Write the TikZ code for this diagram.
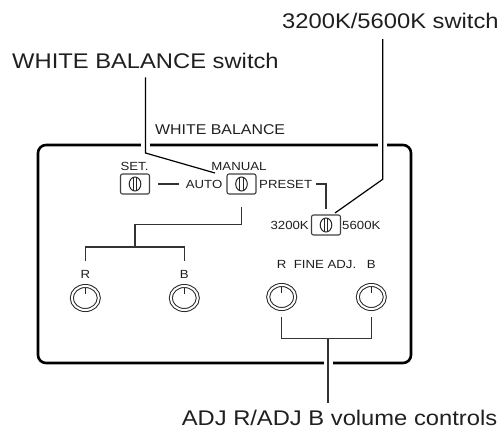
\documentclass[tikz,border=0pt]{standalone}
\usepackage{fontspec}
\setmainfont{Liberation Sans}
\newfontfamily\lblfont[FakeStretch=1.12]{Liberation Sans}
\usetikzlibrary{shapes.geometric}

\begin{document}
\begin{tikzpicture}[
    x=1pt, y=-1pt,
    bigtext/.style={font=\lblfont\fontsize{21.2}{25}\selectfont, text=black!88, inner sep=0},
    midtext/.style={font=\lblfont\fontsize{14.2}{17}\selectfont, text=black!88, inner sep=0},
    smalltext/.style={font=\lblfont\fontsize{11.8}{14}\selectfont, text=black!88, inner sep=0},
    leader/.style={black, line width=1.2pt},
    wire/.style={black!80, line width=1.4pt},
    halo/.style={white, line width=9pt},
    switchbox/.style={rectangle, draw=black!75, line width=1.1pt, rounded corners=2pt,
        minimum width=29pt, minimum height=20pt, inner sep=0,
        path picture={
            \draw[black!85, line width=1pt] (path picture bounding box.center) ellipse (5.8pt and 7pt);
            \draw[black!85, line width=1pt]
                ([xshift=-1.8pt, yshift=-6.6pt]path picture bounding box.center) -- ++(0,13.2pt)
                ([xshift= 1.8pt, yshift=-6.6pt]path picture bounding box.center) -- ++(0,13.2pt);
        }},
    knob/.style={ellipse, draw=black!85, line width=1pt, double, double distance=2pt,
        minimum width=27pt, minimum height=24pt, inner sep=0,
        path picture={
            \draw[black!85, line width=1pt]
                ([yshift=10.5pt]path picture bounding box.center) -- ++(0,-6pt);
        }}
]
\useasboundingbox (0,0) rectangle (502,429);

% ============================================
% PANEL
% ============================================
\draw[black, line width=2.6pt, rounded corners=8pt] (38,145) rectangle (411,363);
\node[midtext, anchor=base west] (wbtitle) at (155,134) {WHITE BALANCE};

% gaps in the panel edge where the leaders cross
\draw[halo] (145.5,141) -- (145.5,149);
\draw[halo] (382.7,141) -- (382.7,149);
\draw[halo] (328,359) -- (328,367);

% ============================================
% SWITCHES
% ============================================
\node[switchbox] (setsw) at (135,184) {};
\node[switchbox] (wbsw)  at (241.5,184) {};
\node[switchbox] (ksw)   at (326,225) {};

\node[smalltext, anchor=base] (setlbl) at (134.5,170) {SET.};
\node[smalltext, anchor=base] (manual) at (239,170) {MANUAL};
\node[smalltext, anchor=east] (auto)   at (222.5,184) {AUTO};
\node[smalltext, anchor=west] (preset) at (259,184) {PRESET};
\node[smalltext, anchor=east] (k32)    at (309,225) {3200K};
\node[smalltext, anchor=west] (k56)    at (342,225) {5600K};

\draw[wire] ([xshift=8pt]setsw.east) -- ([xshift=-7pt]auto.west);
\draw[wire] ([xshift=4pt]preset.east) -| ([yshift=5pt]ksw.north);

% ============================================
% R / B VOLUMES
% ============================================
\node[knob] (lr) at (85.3,298) {};
\node[knob] (lb) at (184.3,298) {};
\node[smalltext, anchor=base] (lrlbl) at (85.3,278.5) {R};
\node[smalltext, anchor=base] (lblbl) at (184.3,278.5) {B};

\coordinate (lbrk) at (135,247);
\draw[wire] ([yshift=-12pt]wbsw.south) -- ++(0,18) -| (lbrk);
\draw[wire] ([yshift=9pt]lrlbl.north) |- (lbrk) -| ([yshift=9pt]lblbl.north);

% FINE ADJ.
\node[knob] (rr) at (281.7,297) {};
\node[knob] (rb) at (371.3,297) {};
\node[smalltext, anchor=base] (rrlbl) at (281.7,268.5) {R};
\node[smalltext, anchor=base] (finelbl) at (325,268.5) {FINE ADJ.};
\node[smalltext, anchor=base] (rblbl) at (371.3,268.5) {B};

\coordinate (rbrk) at (328,338.3);
\draw[wire] ([yshift=-7pt]rr.south) |- (rbrk) -| ([yshift=-7pt]rb.south);

% ============================================
% LEADERS
% ============================================
\node[bigtext, anchor=base west] (wblbl) at (12,68) {WHITE BALANCE switch};
\node[bigtext, anchor=base west] (klbl)  at (282,28) {3200K/5600K switch};
\node[bigtext, anchor=base] (adjlbl) at (339.5,425) {ADJ R/ADJ B volume controls};

\coordinate (wbtop)  at ([yshift=-9pt]wblbl.south);
\coordinate (wbbend) at (145.5,153);
\coordinate (wbend)  at (215,173);
\draw[leader] (wbtop) -- (wbbend) -- (wbend);

\coordinate (ktop)  at (382.7,39);
\coordinate (kbend) at (382.7,179.3);
\coordinate (kend)  at (335,213);
\draw[leader] (ktop) -- (kbend) -- (kend);

\coordinate (adjend) at (328,403);
\draw[wire] (rbrk) -- (adjend);

\end{tikzpicture}
\end{document}
